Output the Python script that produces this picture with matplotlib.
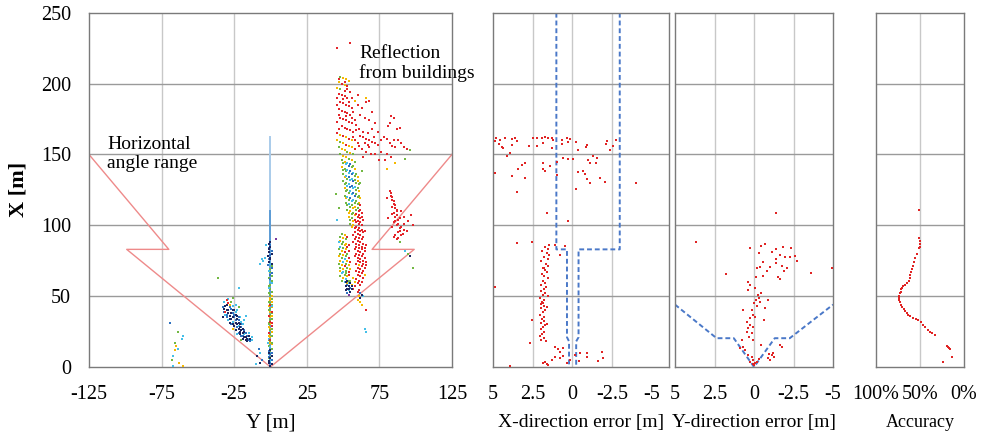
import numpy as np
import matplotlib.pyplot as plt

plt.rcParams['font.family'] = ['Liberation Serif', 'DejaVu Serif']
plt.rcParams['axes.unicode_minus'] = False

# ---- top view scan points, (Y [m], X [m]) per colour ----
red_pts = [
    (46, 225), (55, 229),
    (49, 200), (53, 198), (47, 193), (49, 192), (51, 191), (53, 190), (48, 187), (50, 186), (52, 185), (54, 184),
    (47, 182), (49, 181), (51, 180), (53, 179), (55, 178), (48, 176), (50, 175), (52, 174), (54, 173), (56, 172),
    (49, 170), (51, 169), (53, 168), (55, 167), (57, 166), (46, 165), (50, 163), (54, 161), (52, 157), (58, 154),
    (47, 203), (51, 201), (53, 196), (55, 194), (46, 190), (50, 189), (54, 187), (56, 183), (46, 185), (47, 178),
    (52, 177), (56, 176), (46, 173), (58, 174), (47, 168), (59, 167), (51, 195), (57, 180),
    (60, 185), (63, 183), (66, 187), (70, 180), (62, 178), (65, 176), (68, 174), (72, 172), (59, 171), (61, 168),
    (64, 166), (67, 165), (70, 168), (74, 166), (56, 190), (60, 192), (68, 188),
    (83, 177), (85, 176), (89, 169), (87, 168), (81, 170), (82, 172),
    (62, 163), (64, 162), (66, 161), (68, 160), (70, 159), (72, 158), (74, 157), (76, 160), (78, 162), (80, 161),
    (82, 158), (84, 156), (86, 155), (88, 160), (90, 158), (92, 155), (94, 154), (72, 150), (76, 152), (79, 146),
    (83, 148), (66, 152), (68, 155),
    (58, 160), (60, 158), (57, 162), (61, 156), (63, 154), (65, 158), (67, 157), (69, 150), (71, 162), (64, 148),
    (75, 146), (85, 160), (80, 150),
    (62, 114), (61, 110), (63, 109), (60, 106), (62, 105), (64, 104), (59, 102), (61, 101), (63, 100),
    (58, 98), (60, 97), (62, 96), (64, 95), (62, 111), (59, 108), (61, 107), (63, 106), (58, 104), (60, 103),
    (62, 102), (59, 99), (61, 98), (63, 97), (65, 96),
    (53, 85), (51, 81), (55, 74), (51, 71), (54, 65), (53, 92), (54, 86), (54, 82), (54, 77), (54, 67),
    (57, 93), (59, 92), (61, 91), (63, 90), (57, 88), (59, 87), (61, 86), (63, 85), (65, 84),
    (58, 83), (60, 82), (62, 81), (64, 80), (58, 78), (60, 77), (62, 76), (64, 75), (66, 74),
    (59, 73), (63, 71), (65, 70), (59, 68), (61, 67), (63, 66), (59, 62), (61, 61), (63, 60), (58, 57),
    (58, 95), (60, 94), (62, 93), (64, 92), (58, 90), (60, 89), (62, 88), (64, 87), (66, 86), (59, 85),
    (61, 84), (63, 83), (65, 82), (59, 80), (61, 79), (63, 78), (65, 77), (60, 75), (62, 74), (64, 73),
    (66, 72), (60, 70), (62, 69), (64, 68), (60, 65), (62, 64), (64, 63), (60, 59), (62, 58), (57, 55),
    (60, 53), (61, 54), (66, 40),
    (82, 124), (83, 121), (84, 118), (85, 115), (86, 112), (87, 110), (84, 108), (86, 106), (88, 104), (85, 102),
    (87, 100), (89, 98), (88, 95), (90, 93), (85, 92), (87, 90), (90, 110), (92, 106), (95, 103), (98, 100),
    (92, 97), (94, 96), (81, 105), (80, 119),
    (83, 123), (84, 120), (85, 117), (86, 114), (87, 111), (85, 109), (87, 107), (89, 105), (86, 103), (88, 101),
    (90, 99), (84, 99), (89, 96), (91, 94), (86, 93), (88, 91), (92, 101), (97, 107), (84, 113),
    (1, 39), (0, 32), (1, 29), (-1, 24), (0, 44), (-1, 36), (1, 31), (0, 19),
    (-30, 47), (-29, 45), (-31, 39),
]
yellow_pts = [
    (50, 204), (52, 203), (54, 202), (47, 201), (51, 199), (46, 197), (58, 188), (66, 190), (86, 144), (80, 140),
    (48, 164), (52, 162), (56, 160), (46, 160), (50, 158), (54, 156), (56, 155), (49, 154), (51, 153), (55, 151),
    (50, 149), (52, 148), (56, 146), (58, 140), (60, 134), (51, 134), (61, 124), (62, 119), (52, 119), (57, 112),
    (54, 109), (58, 107), (57, 103), (56, 99),
    (51, 145), (49, 141), (60, 131), (51, 126), (61, 116), (58, 113), (55, 110), (54, 106), (57, 100),
    (50, 91), (51, 86), (49, 82), (47, 78), (53, 75), (49, 72), (55, 69), (48, 68), (50, 63), (61, 72), (65, 65),
    (57, 63), (56, 58), (61, 50), (60, 47), (62, 46), (63, 44),
    (51, 93), (48, 89), (52, 87), (52, 83), (50, 79), (48, 75), (54, 72), (50, 69), (53, 64), (53, 59), (58, 60),
    (1, 50), (0, 47), (1, 42), (0, 35), (-1, 28), (1, 25), (0, 21), (1, 16),
    (0, 49), (1, 46), (-1, 43), (0, 39), (1, 36), (0, 30), (0, 27), (-1, 22), (0, 17),
    (-28, 44), (-26, 27), (-66, 12), (-65, 15), (-63, 3), (-60, 0.5),
]
green_pts = [
    (48, 205), (48, 196), (48, 159), (47, 155), (53, 152), (57, 150), (48, 150), (54, 147), (58, 145),
    (50, 144), (56, 141), (50, 139), (52, 138), (58, 135), (53, 133), (59, 130), (61, 129), (51, 129), (59, 125),
    (52, 124), (54, 123), (60, 120), (54, 118), (58, 116), (60, 115), (53, 114), (55, 113), (59, 111), (56, 108),
    (55, 104), (47, 112), (45, 122), (62, 130), (63, 138),
    (49, 146), (57, 142), (51, 140), (59, 136), (50, 136), (58, 132), (50, 131), (52, 130), (60, 126), (53, 125),
    (59, 122), (61, 121), (51, 121), (59, 117), (52, 116), (56, 114), (60, 112), (53, 111), (57, 109), (56, 105),
    (55, 101),
    (48, 92), (52, 90), (49, 87), (47, 83), (53, 80), (49, 77), (47, 73), (53, 70), (52, 66), (48, 64), (54, 61),
    (55, 61), (89, 88), (95, 80), (98, 70), (96, 153), (93, 147),
    (49, 94), (50, 88), (50, 84), (48, 80), (52, 78), (52, 73), (48, 70), (52, 68), (51, 65), (49, 61),
    (1, 71), (0, 67), (-1, 63), (1, 61), (0, 58), (0, 55), (-1, 52), (1, 48), (0, 45), (-1, 40), (0, 37), (1, 34),
    (-1, 30), (0, 26), (1, 22), (0, 18), (-1, 15), (1, 13), (0, 7),
    (0, 69), (1, 64), (-1, 57), (1, 53), (0, 51), (-1, 46), (1, 44), (0, 41), (1, 38), (0, 33), (-1, 31), (1, 27),
    (0, 23), (-1, 19), (1, 17), (0, 11), (-1, 6),
    (-27, 46), (-22, 42), (-26, 49), (-20, 19), (-36, 63), (-68, 5), (-66, 17), (-64, 25),
]
cyan_pts = [
    (52, 143), (54, 137), (55, 132), (53, 128), (57, 126), (56, 122), (56, 117), (46, 104),
    (53, 144), (53, 139), (57, 137), (52, 135), (56, 133), (54, 129), (58, 127), (55, 124), (53, 120), (57, 118),
    (54, 115),
    (47, 88), (51, 76), (50, 67), (52, 62), (54, 59), (54, 54), (64, 50), (65, 27), (66, 25), (93, 82),
    (48, 85), (50, 74), (49, 66), (51, 60),
    (-3, 86), (-4, 77), (-5, 75), (0, 73), (-1, 68), (0, 60), (1, 43), (-1, 20), (0, 14), (-7, 73), (-6, 76),
    (-7, 10), (-10, 2), (-1, 56), (1, 59), (0, 4), (-1, 9), (-2, 17),
    (-32, 46), (-26, 43), (-24, 44), (-31, 37), (-23, 40), (-29, 48), (-26, 32), (-21, 35), (-20, 32), (-19, 30),
    (-18, 33), (-29, 33), (-17, 36), (-18, 23), (-15, 20), (-15, 24), (-13, 21), (-23, 23), (-22, 56),
    (-24, 39), (-22, 29), (-13, 19),
    (-67, 8), (-64, 13), (-67, 1), (-61, 20), (-60, 22),
]
blue_pts = [
    (54, 142), (56, 136), (57, 131), (55, 127), (58, 121), (53, 58), (55, 56), (53, 52), (62, 52),
    (55, 143), (55, 138), (54, 134), (56, 128), (57, 123), (55, 119),
    (-1, 84), (1, 82), (0, 79), (-2, 72), (1, 70), (0, 65), (-1, 11), (0, 9), (1, 5), (-8, 13), (-6, 5),
    (0, 86), (-1, 76), (1, 66), (0, 62), (0, 3), (1, 10), (-1, 7),
    (-33, 42), (-32, 39), (-27, 41), (-26, 38), (-30, 35), (-25, 35), (-22, 33), (-23, 28), (-20, 28), (-27, 30),
    (-22, 24), (-20, 22), (-16, 22), (-14, 18), (-18, 26), (-69, 31),
    (-28, 42), (-25, 37), (-22, 35), (-30, 37), (-24, 33), (-20, 30), (-17, 24), (-19, 22), (-15, 19),
]
navy_pts = [
    (52, 60), (54, 57), (53, 55), (55, 53), (52, 57), (56, 55), (63, 51), (62, 49), (96, 78),
    (53, 61), (55, 59), (54, 55), (52, 54), (56, 57),
    (-1, 87), (0, 85), (-1, 83), (1, 80), (-2, 78), (0, 76), (-1, 74), (0, 12), (-1, 10), (1, 8), (0, 6), (-1, 4),
    (1, 2), (0, 1), (-1, 3), (-9, 8), (-7, 3), (0, 88), (-1, 81), (0, 77), (1, 73),
    (-31, 43), (-30, 40), (-29, 38), (-25, 40), (-28, 36), (-33, 35), (-24, 37), (-27, 34), (-23, 34), (-24, 31),
    (-25, 29), (-21, 30), (-24, 26), (-22, 27), (-21, 25), (-19, 24), (-17, 21), (-19, 20), (-17, 19), (-16, 18),
    (-28, 31), (-30, 44), (-26, 40), (-32, 41), (-29, 40), (-27, 38), (-23, 36), (-28, 34), (-26, 35), (-22, 31),
    (-26, 30), (-23, 30), (-21, 28), (-19, 27), (-20, 26), (-18, 25), (-21, 23), (-18, 21), (-16, 20), (-14, 20),
    (-15, 22),
]
purple_pts = [(4, 90), (54, 51)]

# sensor field of view outline and reference line along Y = 0
fov_y = [-125, -70, -99, 0, 99, 70, 125]
fov_x = [150, 83, 83, 0, 83, 83, 150]
ref_top = 162
ref_solid_top = 110

# ---- error panels: (error [m], X [m]) ----
x_err_pts = [
    (4.81, 161.5), (4.56, 160.3), (4.24, 161.5), (3.82, 160.8), (3.61, 161.5), (3.51, 159.2), (4.87, 159.2),
    (4.6, 157.5), (3.82, 156.8), (4.35, 154.5), (3.93, 150.9), (4.14, 148.6), (4.45, 155.2), (2.71, 156.1),
    (2.45, 161.5), (2.24, 161.5), (1.93, 161.5), (1.72, 162.2), (1.51, 161.5), (1.3, 161.5), (1.19, 160.3),
    (2.24, 156.1), (1.82, 158), (1.3, 154.5), (0.66, 160.3), (0.35, 161.5), (0.14, 160.8), (0.24, 158.5),
    (0.66, 157.5), (-0.24, 158.5), (-0.92, 156.8), (-0.87, 155.6), (-0.39, 153.3), (-2.18, 159.2),
    (-2.14, 157.5), (-2.6, 156.1), (-2.77, 160.3), (-2.39, 152.8), (-1.34, 149), (-1.55, 147.4), (-1.02, 146.2),
    (-1.5, 143.9), (-1.13, 143.9), (2.98, 144.3), (3.19, 142.7), (3.4, 139.6), (1.82, 143.9), (1.86, 139.6),
    (1.72, 138), (1.4, 141.5), (0.98, 145), (0.56, 147.4), (0.24, 146.7), (-0.03, 146.7), (-0.39, 137.3),
    (-0.7, 138), (-0.81, 136.3), (-0.92, 132.6), (-1.13, 129.7), (-1.76, 133.3), (-2.07, 130.9), (-4.01, 129.7),
    (4.87, 136.8), (3.82, 135), (2.98, 133.3), (-0.24, 125.5), (3.46, 123.2), (0.98, 135.6),
    (1.57, 109), (0.28, 103.3), (3.47, 87.8), (2.54, 88), (4.87, 56.7), (3.93, 0.7),
    (1.08, 86.2), (0.45, 85.5), (0.77, 79.1),
    (1.7, 85), (1.5, 83.5), (1.9, 82), (1.6, 80.5), (1.45, 79), (1.8, 77.5), (1.55, 76), (1.95, 74.5), (1.65, 73),
    (1.5, 71.5), (1.85, 70), (1.7, 68.5), (1.6, 67), (1.9, 65.5), (1.75, 64), (1.55, 62.5), (1.85, 61),
    (1.7, 59.5), (2.0, 58), (1.65, 56.5), (1.8, 55), (1.95, 53.5), (1.7, 52), (1.85, 50.5), (2.05, 49),
    (1.75, 47.5), (1.9, 46), (2.0, 44.5), (1.8, 43), (1.95, 41.5), (1.7, 40), (1.85, 38.5), (2.05, 37),
    (1.75, 35.5), (1.9, 34), (1.8, 32.5), (2.0, 31), (1.7, 29.5), (1.85, 28), (1.95, 26.5), (1.75, 25),
    (1.9, 23.5), (2.05, 22), (1.8, 20.5), (1.95, 19), (1.65, 18), (1.55, 83), (1.45, 86), (1.6, 30),
    (1.85, 45), (1.6, 42), (1.55, 50), (1.75, 70), (2.56, 33.3), (2.66, 17.2),
    (1.08, 14.4), (0.87, 12.5), (0.77, 10.9), (0.6, 13.2), (1.08, 7.3), (0.77, 6.2), (0.56, 7.8), (0.14, 5),
    (-0.18, 8.5), (-0.49, 9.7), (-0.92, 10.2), (-0.96, 7.3), (-0.45, 4.5), (-1.86, 10.9), (-1.93, 6.2),
    (-1.65, 4.5), (1.72, 3.8), (1.61, 2.2), (1.82, 3.1), (1.5, 1.5), (1.3, 5), (0.35, 2.6),
]
y_err_pts = [
    (-1.38, 109), (1.78, 65.7), (-3.63, 66.6), (-4.96, 69.6), (3.67, 88), (0.26, 84.3), (-0.43, 85.7),
    (-0.69, 86.8), (-0.33, 80.3), (-0.58, 74.4), (-0.37, 70.8), (-0.16, 69.7), (-0.12, 63.8), (0.37, 60.2),
    (0.37, 54.4), (0.26, 57.9), (-0.05, 55.5), (-0.26, 50.8), (-0.43, 52.5), (-0.33, 48.5), (-0.12, 47.3),
    (0.01, 45), (-0.16, 43.1), (-0.37, 46.1), (-0.9, 47.3), (-0.69, 41.4), (0.16, 40.3), (0.72, 40.3),
    (0.05, 36.7), (-0.05, 35.5), (0.26, 34.4), (-0.62, 33.2), (0.47, 32), (0.26, 29.7), (0.37, 27.3),
    (0.05, 28.5), (0.47, 25), (0.16, 23.8), (0.3, 21.4), (0.09, 19.1), (0.79, 19.1), (0.68, 14.4), (0.89, 13.2),
    (0.58, 12), (0.37, 8.5), (0.16, 7.3), (0.05, 5), (0.26, 3.8), (0.09, 2.2), (-0.05, 3.1), (-0.2, 3.8),
    (-0.33, 5.4), (0.01, 1.4), (-0.47, 15.6), (-0.9, 6.1), (-1.11, 8.5), (-1.21, 10.1), (-0.96, 9.2),
    (-1.63, 15.6), (-1.74, 14.4), (-1.04, 5), (-1.25, 6.8),
    (-1.11, 81.4), (-1.42, 83.1), (-1.84, 85), (-2.37, 84.3), (-1.63, 79.1), (-1.95, 77.4), (-2.26, 77.9),
    (-2.58, 78.4), (-2.73, 74.8), (-1.42, 76), (-1.38, 73.2), (-1.74, 71.3), (-2.1, 69.6), (-1.88, 68),
    (-1.53, 63.3), (-1.67, 61.9), (-1.04, 70.8), (-0.79, 67.8), (-0.54, 64.3),
]
# tolerance bounds (dashed)
x_tol_left = [(1.0, 250), (1.0, 83), (0.33, 83), (0.33, 21), (0.2, 18), (0.2, 0)]
x_tol_right = [(-3.0, 250), (-3.0, 83), (-0.4, 83), (-0.4, 21), (-0.25, 18), (-0.25, 0)]
y_tol = [(5, 44), (2.37, 20.3), (1.28, 20.3), (0, 0), (-1.31, 20.3), (-2.26, 20.3), (-5, 44)]

# detection accuracy over distance: (accuracy [%], X [m])
acc_pts = [
    (51, 111), (51, 91), (50, 89), (50, 87), (50, 85), (51, 84), (53, 80), (56, 77), (57, 74), (58, 71), (59, 69),
    (60, 67), (61, 65), (61, 63), (63, 61), (65, 59), (67, 58), (69, 57), (70, 56), (71, 55), (72, 53), (73, 52),
    (73.5, 50), (74, 48.5), (74, 47), (73, 45.5), (71, 44), (70, 42.5), (68, 41), (67, 39.5), (65, 38),
    (63.5, 37), (61, 36), (58, 34.6), (55, 33.8), (52, 33), (49, 31.5), (46.6, 29.7), (44, 28), (41, 26),
    (38, 25), (36, 24), (33, 22.6), (19, 15), (18, 14), (17, 13.5), (16, 12.6), (14, 7), (24, 3.8),
]

main_xticks = [-125, -75, -25, 25, 75, 125]
x_ticks_m = [5, 2.5, 0, -2.5, -5]
x_ticklabels_m = ['5', '2.5', '0', '-2.5', '-5']
acc_ticks = [100, 50, 0]
acc_ticklabels = ['100%', '50%', '0%']
row_ticks = [0, 50, 100, 150, 200, 250]

colors = {
    'red': '#e3262b', 'yellow': '#f5b800', 'green': '#72b843', 'cyan': '#45bfe8',
    'blue': '#2f72c0', 'navy': '#1c2560', 'purple': '#7a3aa0',
}
V_GRID = '#c8c8c8'
H_GRID = '#9a9a9a'
FRAME = '#7a7a7a'
DOT = '#e02424'
DASH = '#4a78c8'

fig = plt.figure(figsize=(9.84, 4.4), dpi=100)
bottom, height = 0.166, 0.805
ax_main = fig.add_axes([0.0904, bottom, 0.3689, height])
ax_xe = fig.add_axes([0.501, bottom, 0.1789, height])
ax_ye = fig.add_axes([0.686, bottom, 0.1606, height])
ax_acc = fig.add_axes([0.8902, bottom, 0.0894, height])


def style(ax, vlines):
    ax.set_ylim(0, 250)
    ax.set_yticks(row_ticks)
    for v in vlines:
        ax.axvline(v, color=V_GRID, lw=1, zorder=0)
    for h in row_ticks[1:-1]:
        ax.axhline(h, color=H_GRID, lw=1, zorder=0)
    for s in ax.spines.values():
        s.set_color(FRAME)
        s.set_linewidth(1)
    ax.tick_params(length=0, labelsize=14.5, pad=13)


def scatter(ax, pts, color, s=4.5):
    arr = np.array(pts, dtype=float)
    ax.scatter(arr[:, 0], arr[:, 1], s=s, marker='s', color=color, linewidths=0, zorder=3)


# top view
ax_main.set_xlim(-125, 125)
style(ax_main, [-75, -25, 25, 75])
ax_main.set_xticks(main_xticks)
ax_main.tick_params(axis='y', pad=13)
ax_main.plot(fov_y, fov_x, color='#ee8a8a', lw=1, zorder=2)
ax_main.plot([0, 0], [0, ref_top], color='#a9cbea', lw=1.4, zorder=2)
ax_main.plot([0, 0], [0, ref_solid_top], color='#5b9bd5', lw=1.4, zorder=2)
for name, pts in [('yellow', yellow_pts), ('green', green_pts), ('cyan', cyan_pts),
                  ('blue', blue_pts), ('red', red_pts), ('navy', navy_pts), ('purple', purple_pts)]:
    scatter(ax_main, pts, colors[name])
ax_main.set_xlabel('Y [m]', fontsize=15, labelpad=7)
ax_main.set_ylabel('X [m]', fontsize=16, fontweight='bold', labelpad=9)
ax_main.text(-112.5, 163, 'Horizontal\nangle range', fontsize=14, va='top', ha='left', linespacing=1.15)
ax_main.text(61, 227, 'Reflection\nfrom buildings', fontsize=14, va='top', ha='left', linespacing=1.15)

# X-direction error
ax_xe.set_xlim(5, -6.11)
style(ax_xe, [2.5, 0, -2.5])
ax_xe.set_xticks(x_ticks_m)
ax_xe.set_xticklabels(x_ticklabels_m)
ax_xe.set_yticklabels([])
for line in (x_tol_left, x_tol_right):
    arr = np.array(line)
    ax_xe.plot(arr[:, 0], arr[:, 1], color=DASH, lw=1.4, ls=(0, (2.5, 1.5)), zorder=2)
scatter(ax_xe, x_err_pts, DOT, s=4)
ax_xe.set_xlabel('X-direction error [m]', fontsize=14, labelpad=7)

# Y-direction error
ax_ye.set_xlim(5, -5)
style(ax_ye, [2.5, 0, -2.5])
ax_ye.set_xticks(x_ticks_m)
ax_ye.set_xticklabels(x_ticklabels_m)
ax_ye.set_yticklabels([])
arr = np.array(y_tol)
ax_ye.plot(arr[:, 0], arr[:, 1], color=DASH, lw=1.4, ls=(0, (2.5, 1.5)), zorder=2)
scatter(ax_ye, y_err_pts, DOT, s=4)
ax_ye.set_xlabel('Y-direction error [m]', fontsize=14, labelpad=7)

# accuracy
ax_acc.set_xlim(100, 0)
style(ax_acc, [50])
ax_acc.set_xticks(acc_ticks)
ax_acc.set_xticklabels(acc_ticklabels)
ax_acc.set_yticklabels([])
scatter(ax_acc, acc_pts, DOT, s=4)
ax_acc.set_xlabel('Accuracy', fontsize=13, labelpad=7)

fig.savefig('out.png', dpi=100)
